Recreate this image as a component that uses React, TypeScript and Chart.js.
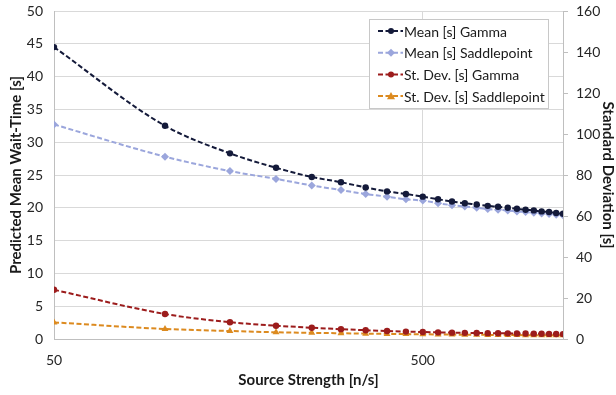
import React, { useEffect, useRef } from "react";
import { Chart, registerables } from "chart.js";

Chart.register(...registerables);

const sourceStrength = [50, 100, 150, 200, 250, 300, 350, 400, 450, 500, 550, 600, 650, 700, 750, 800, 850, 900, 950, 1000, 1050, 1100, 1150, 1200];
const meanGamma = [44.5, 32.5, 28.3, 26.1, 24.7, 23.9, 23.1, 22.5, 22.1, 21.7, 21.3, 20.95, 20.7, 20.5, 20.3, 20.15, 20.0, 19.85, 19.7, 19.6, 19.45, 19.35, 19.2, 19.1];
const meanSaddle = [32.7, 27.8, 25.6, 24.4, 23.4, 22.7, 22.1, 21.7, 21.3, 21.1, 20.7, 20.4, 20.2, 20.0, 19.8, 19.7, 19.6, 19.45, 19.35, 19.25, 19.15, 19.05, 18.95, 18.85];
const stdGamma = [24.0, 12.2, 8.2, 6.5, 5.5, 4.8, 4.3, 3.9, 3.6, 3.4, 3.25, 3.1, 3.0, 2.9, 2.85, 2.8, 2.75, 2.7, 2.65, 2.6, 2.55, 2.5, 2.45, 2.4];
const stdSaddle = [8.1, 4.9, 3.9, 3.3, 3.0, 2.8, 2.6, 2.5, 2.4, 2.3, 2.2, 2.15, 2.1, 2.05, 2.0, 1.97, 1.94, 1.91, 1.88, 1.86, 1.84, 1.82, 1.8, 1.78];
const xTickValues = [50, 500];
const seriesLabels = ["Mean [s] Gamma", "Mean [s] Saddlepoint", "St. Dev. [s] Gamma", "St. Dev. [s] Saddlepoint"];
const seriesColors = ["#141a3a", "#9ba6dc", "#9c1c1c", "#dc8a1f"];
const seriesMarkers = ["circle", "rectRot", "circle", "triangle"];

const FONT = "Lato, 'Open Sans', sans-serif";

function drawMarker(ctx: CanvasRenderingContext2D, style: string, x: number, y: number, r: number, color: string) {
  ctx.save();
  ctx.fillStyle = color;
  ctx.beginPath();
  if (style === "circle") {
    ctx.arc(x, y, r, 0, Math.PI * 2);
  } else if (style === "rectRot") {
    ctx.moveTo(x, y - r);
    ctx.lineTo(x + r, y);
    ctx.lineTo(x, y + r);
    ctx.lineTo(x - r, y);
    ctx.closePath();
  } else {
    ctx.moveTo(x, y - r);
    ctx.lineTo(x + r, y + r * 0.8);
    ctx.lineTo(x - r, y + r * 0.8);
    ctx.closePath();
  }
  ctx.fill();
  ctx.restore();
}

const legendPlugin = {
  id: "boxLegend",
  afterDraw(chart: any) {
    const ctx: CanvasRenderingContext2D = chart.ctx;
    const area = chart.chartArea;
    const w = 180;
    const h = 90;
    const x0 = area.right - 14 - w;
    const y0 = area.top + 8;
    ctx.save();
    ctx.fillStyle = "#ffffff";
    ctx.fillRect(x0, y0, w, h);
    ctx.strokeStyle = "#c8c8c8";
    ctx.lineWidth = 1;
    ctx.strokeRect(x0 + 0.5, y0 + 0.5, w - 1, h - 1);
    ctx.font = "14px " + FONT;
    ctx.textBaseline = "middle";
    ctx.textAlign = "left";
    seriesLabels.forEach((label, i) => {
      const cy = y0 + 12 + i * 21.7;
      const lx = x0 + 9;
      ctx.strokeStyle = seriesColors[i];
      ctx.lineWidth = 2;
      ctx.setLineDash([5, 2.5]);
      ctx.beginPath();
      ctx.moveTo(lx, cy);
      ctx.lineTo(lx + 25, cy);
      ctx.stroke();
      ctx.setLineDash([]);
      drawMarker(ctx, seriesMarkers[i], lx + 13, cy, seriesMarkers[i] === "circle" ? 3 : 4, seriesColors[i]);
      ctx.fillStyle = "#1a1a1a";
      ctx.fillText(label, x0 + 35, cy + 1);
    });
    ctx.restore();
  },
};

export default function App() {
  const ref = useRef<HTMLCanvasElement>(null);
  useEffect(() => {
    if (!ref.current) return;
    const mk = (data: number[], i: number, axis: string) => ({
      label: seriesLabels[i],
      data: sourceStrength.map((x, k) => ({ x, y: data[k] })),
      yAxisID: axis,
      borderColor: seriesColors[i],
      backgroundColor: seriesColors[i],
      borderWidth: 2,
      borderDash: [5, 2.5],
      pointStyle: seriesMarkers[i],
      pointRadius: seriesMarkers[i] === "circle" ? 3.2 : 4,
      pointBorderWidth: 0,
      pointBackgroundColor: seriesColors[i],
      cubicInterpolationMode: "monotone" as const,
      fill: false,
    });
    const tickFont = { family: FONT, size: 14 };
    const titleFont = { family: FONT, size: 15, weight: "bold" as const };
    const chart = new Chart(ref.current, {
      type: "line",
      data: {
        datasets: [
          mk(meanGamma, 0, "y"),
          mk(meanSaddle, 1, "y"),
          mk(stdGamma, 2, "y1"),
          mk(stdSaddle, 3, "y1"),
        ],
      },
      options: {
        animation: false,
        responsive: false,
        layout: { padding: { top: 11, left: 0, right: 0, bottom: 0 } },
        plugins: { legend: { display: false }, tooltip: { enabled: false } },
        scales: {
          x: {
            type: "logarithmic",
            min: 50,
            max: 1200,
            afterBuildTicks: (s: any) => {
              s.ticks = xTickValues.map((v) => ({ value: v }));
            },
            ticks: { callback: (v: any) => String(v), font: tickFont, color: "#262626", padding: 13, maxRotation: 0, autoSkip: false },
            grid: { color: "#d9d9d9", drawTicks: false },
            border: { color: "#bfbfbf" },
            title: { display: true, text: "Source Strength [n/s]", font: titleFont, color: "#1a1a1a", padding: { top: 4, bottom: 6 } },
            afterFit: (s: any) => {
              s.height = 56;
              s.paddingLeft = 0;
              s.paddingRight = 0;
            },
          },
          y: {
            position: "left",
            min: 0,
            max: 50,
            ticks: { stepSize: 5, font: tickFont, color: "#262626", padding: 11 },
            grid: { color: "#d9d9d9", drawTicks: false },
            border: { color: "#bfbfbf" },
            title: { display: true, text: "Predicted Mean Wait-Time [s]", font: titleFont, color: "#1a1a1a", padding: { top: 7, bottom: 4 } },
            afterFit: (s: any) => {
              s.width = 54;
              s.paddingTop = 0;
              s.paddingBottom = 0;
            },
          },
          y1: {
            position: "right",
            min: 0,
            max: 160,
            ticks: { stepSize: 20, font: tickFont, color: "#262626", padding: 8 },
            grid: { drawOnChartArea: false, drawTicks: true, tickLength: 5, color: "#bfbfbf" },
            border: { color: "#bfbfbf" },
            title: { display: true, text: "Standard Deviation [s]", font: titleFont, color: "#1a1a1a", padding: { top: -1, bottom: 0 } },
            afterFit: (s: any) => {
              s.width = 53;
              s.paddingTop = 0;
              s.paddingBottom = 0;
            },
          },
        },
      } as any,
      plugins: [legendPlugin],
    });
    return () => chart.destroy();
  }, []);
  return (
    <div style={{ position: "fixed", left: 0, top: 0, width: 616, height: 395, background: "#fff" }}>
      <canvas ref={ref} width={616} height={395} style={{ width: 616, height: 395, display: "block" }} />
    </div>
  );
}
